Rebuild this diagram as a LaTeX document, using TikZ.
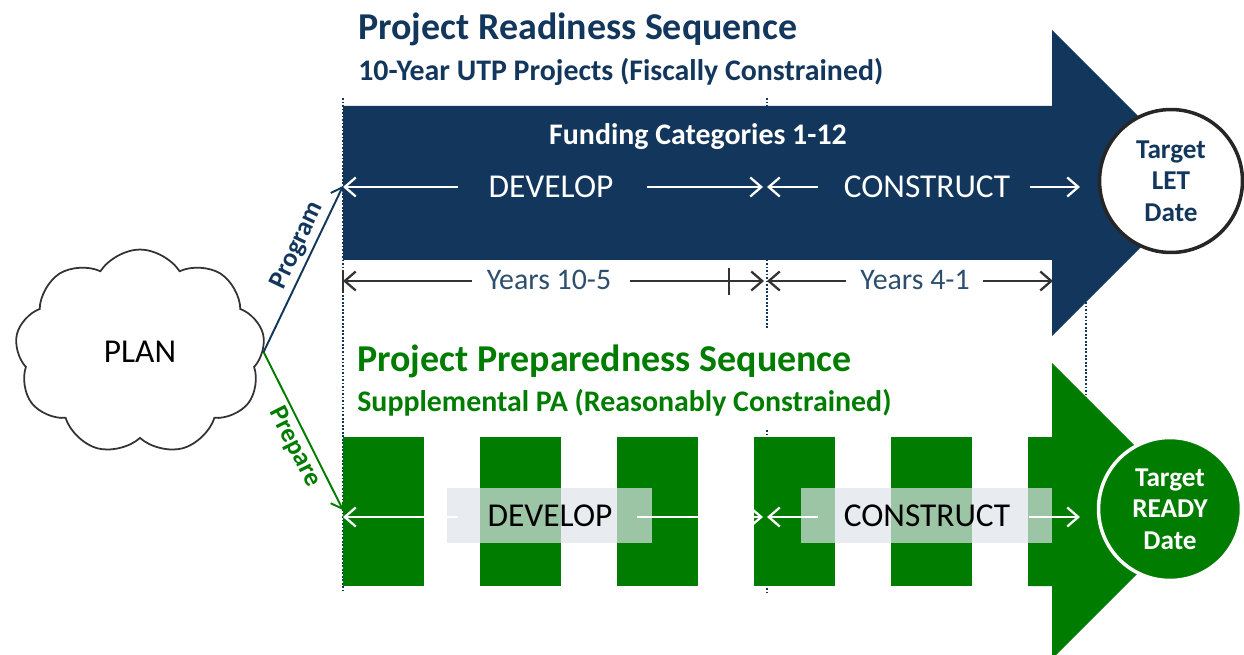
\documentclass[tikz,border=0pt]{standalone}
\usepackage{fontspec}
\setmainfont{Carlito}
\usepackage{tikz}
\usetikzlibrary{arrows.meta,shapes.symbols}
\definecolor{readyblue}{RGB}{19,55,92}
\definecolor{prepgreen}{RGB}{0,124,0}
\definecolor{yearsblue}{RGB}{46,78,110}
\definecolor{labelgray}{RGB}{222,228,234}

\begin{document}
\begin{tikzpicture}[x=0.02cm, y=-0.02cm,
  title/.style={anchor=base west, inner sep=0pt, font=\bfseries\fontsize{21.6}{26}\selectfont},
  subtitle/.style={anchor=base west, inner sep=0pt, font=\bfseries\fontsize{17}{20}\selectfont},
  phase/.style={inner sep=1pt, font=\fontsize{19}{23}\selectfont},
  years/.style={anchor=base, inner sep=1pt, text=yearsblue, font=\fontsize{17}{20}\selectfont},
  target/.style={circle, line width=2pt, minimum size=2.86cm, inner sep=0pt, align=center,
    font=\bfseries\fontsize{15.5}{18}\selectfont},
  whitearrow/.style={-{Straight Barb[length=2.2mm,width=3.8mm]}, line width=1.3pt, draw=white},
  yeararrow/.style={-{Straight Barb[length=2.2mm,width=3.8mm]}, line width=1.3pt, draw=black!80},
  linkarrow/.style={-{Straight Barb[length=2mm,width=3.2mm]}, line width=1.1pt},
  guide/.style={draw=readyblue, densely dotted, line width=1pt},
  slot/.style={fill=prepgreen},
  phasebox/.style={fill=labelgray, fill opacity=0.7}
]
\useasboundingbox (0,0) rectangle (1244,655);

% dotted guides
\draw[guide] (343,98) -- (343,590);
\draw[guide] (767,98) -- (767,328);
\draw[guide] (767,430) -- (767,592);
\draw[guide] (1086,260) -- (1086,450);

% readiness arrow
\fill[readyblue] (343,106) -- (1052,106) -- (1052,30) -- (1205,183)
  -- (1052,336) -- (1052,260) -- (343,260) -- cycle;

% preparedness slots and arrow
\foreach \x in {343,480,617,754,891}
  \fill[slot] (\x,437) rectangle ++(81,149);
\fill[prepgreen] (1028,437) -- (1052,437) -- (1052,363) -- (1200,511)
  -- (1052,659) -- (1052,586) -- (1028,586) -- cycle;
\fill[phasebox] (447,488) rectangle (652,543);
\fill[phasebox] (801,488) rectangle (1052,543);

% titles
\node[title, text=readyblue] (readytitle) at (358,40) {Project Readiness Sequence};
\node[subtitle, text=readyblue] (readysub) at (358,81) {10-Year UTP Projects (Fiscally Constrained)};
\node[title, text=prepgreen] (preptitle) at (357,371) {Project Preparedness Sequence};
\node[subtitle, text=prepgreen] (prepsub) at (357,411) {Supplemental PA (Reasonably Constrained)};

% readiness phases
\node[anchor=base, text=white, font=\bfseries\fontsize{17}{20}\selectfont] (funding) at (698,145) {Funding Categories 1-12};
\node[phase, text=white] (devtop) at (551,187) {DEVELOP};
\node[phase, text=white] (contop) at (927,187) {CONSTRUCT};
\coordinate (readystart) at (343,186);
\draw[whitearrow] (458,187) -- (343,187);
\draw[whitearrow] (647,187) -- (763,187);
\draw[whitearrow] (818,187) -- (767,187);
\draw[whitearrow] (1030,187) -- (1080,187);

% years
\node[years] (yearsa) at (549,290) {Years 10-5};
\node[years] (yearsb) at (915,290) {Years 4-1};
\draw[yeararrow] (472,281) -- (343,281);
\draw[yeararrow] (630,281) -- (764,281);
\draw[yeararrow] (846,281) -- (767,281);
\draw[yeararrow] (983,281) -- (1053,281);
\draw[line width=1.3pt, black!80] (343,270) -- (343,292);
\draw[line width=1.3pt, black!80] (729,268) -- (729,295);

% preparedness phases
\coordinate (prepstart) at (343,510);
\draw[whitearrow] (458,517) -- (343,517);
\draw[whitearrow] (637,517) -- (763,517);
\draw[whitearrow] (818,517) -- (767,517);
\draw[whitearrow] (1029,517) -- (1080,517);
\node[phase] (devbot) at (550,516) {DEVELOP};
\node[phase] (conbot) at (927,516) {CONSTRUCT};

% targets
\node[target, draw=black!85, fill=white, text=readyblue] (letdate) at (1171,181) {Target\\LET\\Date};
\node[target, draw=white, fill=prepgreen, text=white] (readydate) at (1170,509) {Target\\READY\\Date};

% plan
\node[cloud, draw=black!80, line width=1pt, cloud puffs=9, cloud puff arc=115, aspect=1.25,
  minimum width=5cm, minimum height=4.1cm, font=\fontsize{19}{23}\selectfont] (plan) at (140,352) {PLAN};
\draw[linkarrow, readyblue] (plan.east) -- node[pos=0.6, sloped, above, inner sep=2pt,
  font=\bfseries\fontsize{15}{18}\selectfont] {Program} (readystart);
\draw[linkarrow, prepgreen] (plan.east) -- node[pos=0.56, sloped, below, inner sep=2pt,
  font=\bfseries\fontsize{15}{18}\selectfont] {Prepare} (prepstart);
\end{tikzpicture}
\end{document}
